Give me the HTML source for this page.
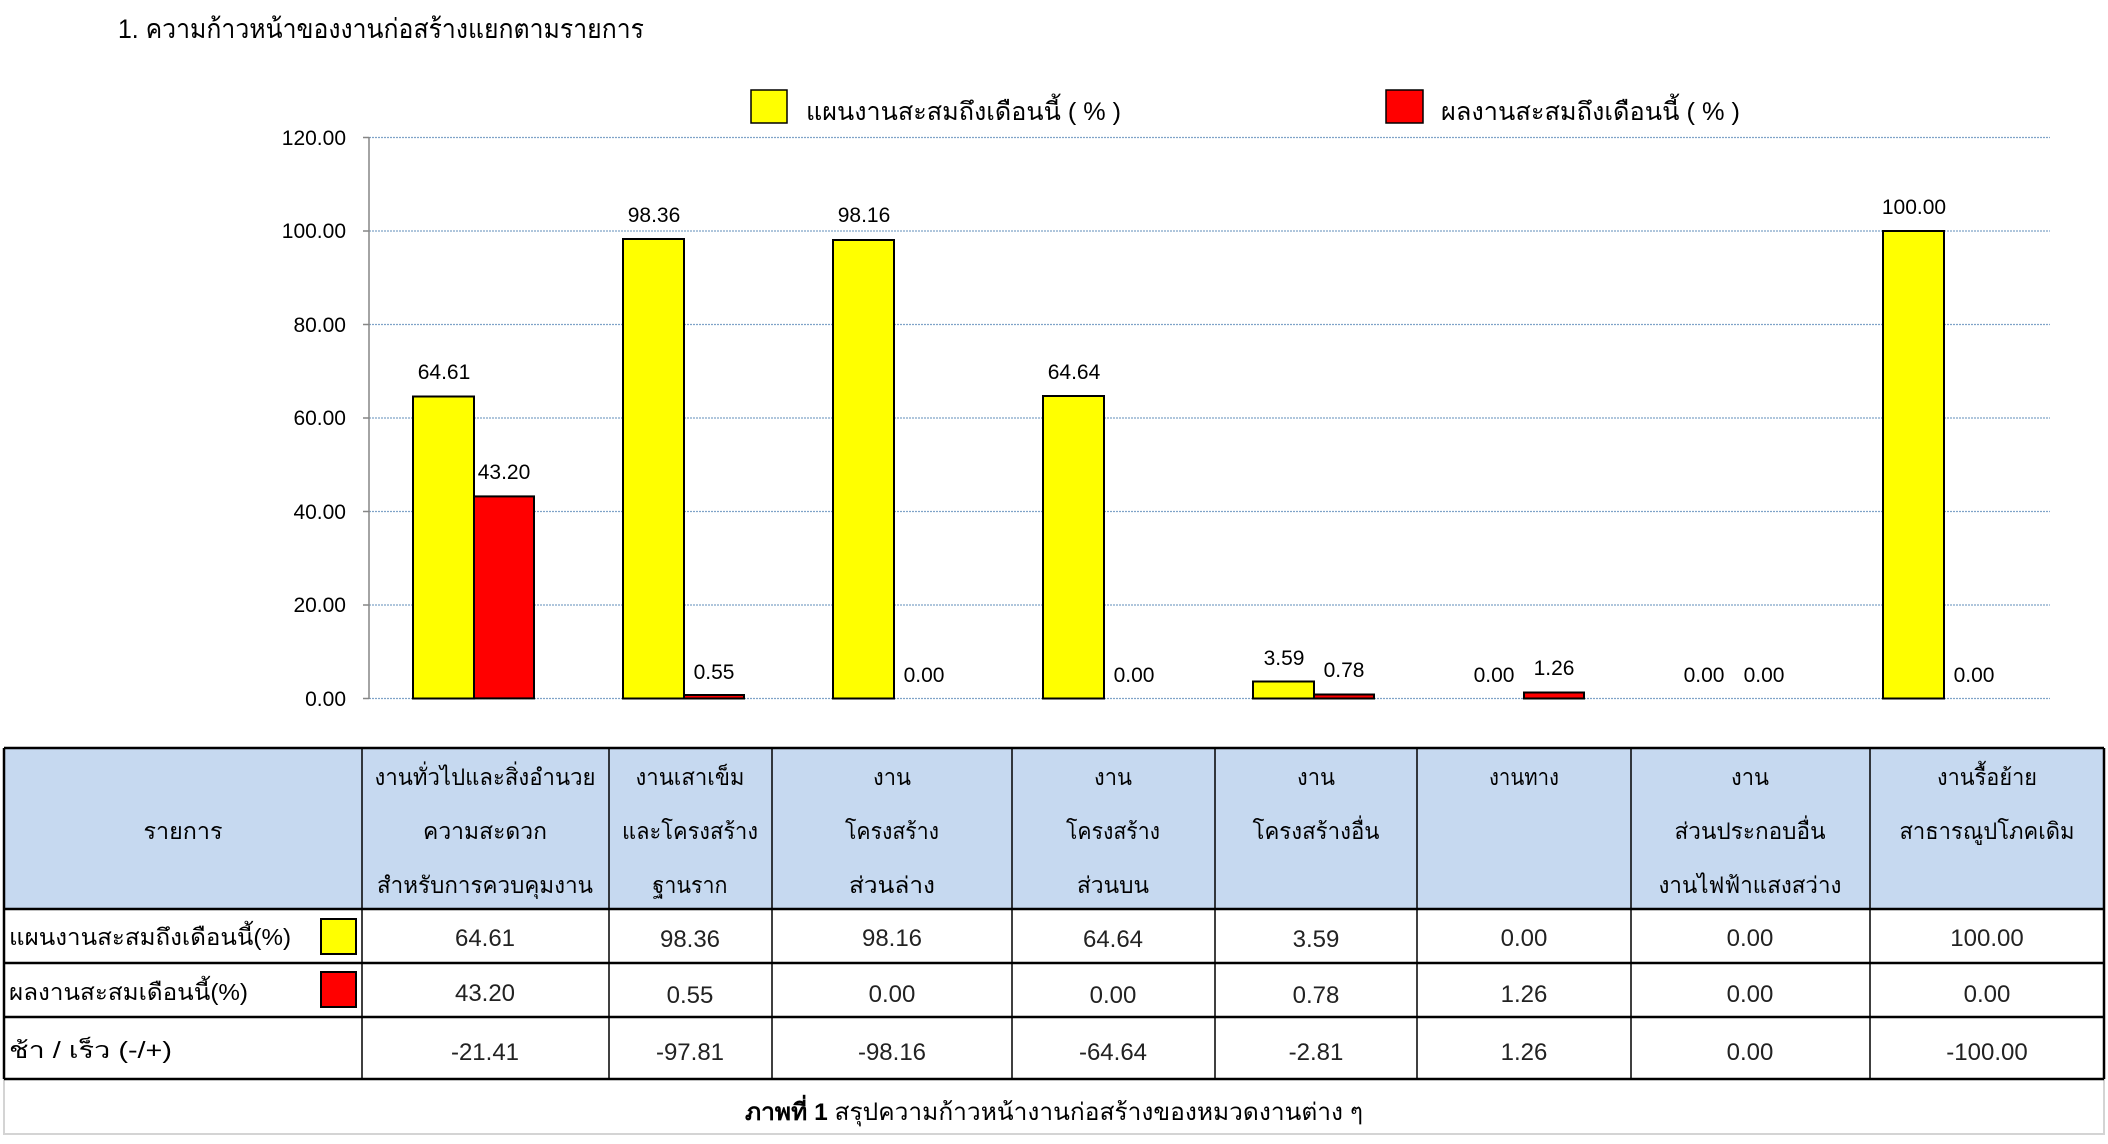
<!DOCTYPE html>
<html><head><meta charset="utf-8"><style>
html,body{margin:0;padding:0;background:#fff;}
svg{display:block;font-family:"Liberation Sans","DejaVu Sans",sans-serif;}
</style></head><body>
<svg width="2108" height="1144" viewBox="0 0 2108 1144" xmlns="http://www.w3.org/2000/svg">
<rect width="2108" height="1144" fill="#fff"/>
<text x="118" y="38" font-size="27" fill="#000" textLength="526" lengthAdjust="spacingAndGlyphs">1. ความก้าวหน้าของงานก่อสร้างแยกตามรายการ</text>
<!-- legend -->
<rect x="751" y="90" width="36" height="33" fill="#ffff00" stroke="#000" stroke-width="1.5"/>
<text x="806" y="120" font-size="25" textLength="315" lengthAdjust="spacingAndGlyphs">แผนงานสะสมถึงเดือนนี้ ( % )</text>
<rect x="1386" y="90" width="37" height="33" fill="#ff0000" stroke="#000" stroke-width="1.5"/>
<text x="1441" y="120" font-size="25" textLength="299" lengthAdjust="spacingAndGlyphs">ผลงานสะสมถึงเดือนนี้ ( % )</text>
<!-- grid -->
<g stroke="#7fa3c8" stroke-width="1.2" stroke-dasharray="2,1">
<line x1="369" y1="137.5" x2="2050" y2="137.5"/>
<line x1="369" y1="231" x2="2050" y2="231"/>
<line x1="369" y1="324.5" x2="2050" y2="324.5"/>
<line x1="369" y1="418" x2="2050" y2="418"/>
<line x1="369" y1="511.5" x2="2050" y2="511.5"/>
<line x1="369" y1="605" x2="2050" y2="605"/>
<line x1="369" y1="698.5" x2="2050" y2="698.5"/>
</g>
<line x1="369" y1="137" x2="369" y2="699" stroke="#868686" stroke-width="1.5"/>
<g stroke="#868686" stroke-width="1.5">
<line x1="363" y1="137.5" x2="369" y2="137.5"/><line x1="363" y1="231" x2="369" y2="231"/><line x1="363" y1="324.5" x2="369" y2="324.5"/><line x1="363" y1="418" x2="369" y2="418"/><line x1="363" y1="511.5" x2="369" y2="511.5"/><line x1="363" y1="605" x2="369" y2="605"/><line x1="363" y1="698.5" x2="369" y2="698.5"/>
</g>
<g font-size="21" text-anchor="end">
<text x="346" y="145">120.00</text><text x="346" y="238">100.00</text><text x="346" y="332">80.00</text><text x="346" y="425">60.00</text><text x="346" y="519">40.00</text><text x="346" y="612">20.00</text><text x="346" y="706">0.00</text>
</g>
<!-- bars -->
<g stroke="#000" stroke-width="2">
<rect x="413" y="396.5" width="61" height="302" fill="#ffff00"/>
<rect x="474" y="496.4" width="60" height="202" fill="#ff0000"/>
<rect x="623" y="239" width="61" height="459.5" fill="#ffff00"/>
<rect x="684" y="695" width="60" height="3.5" fill="#ff0000"/>
<rect x="833" y="240" width="61" height="458.5" fill="#ffff00"/>
<rect x="1043" y="396" width="61" height="302.5" fill="#ffff00"/>
<rect x="1253" y="681.5" width="61" height="17" fill="#ffff00"/>
<rect x="1314" y="694.5" width="60" height="4" fill="#ff0000"/>
<rect x="1524" y="692.5" width="60" height="6" fill="#ff0000"/>
<rect x="1883" y="231" width="61" height="467.5" fill="#ffff00"/>
</g>
<g font-size="21" text-anchor="middle">
<text x="444" y="379">64.61</text><text x="504" y="479">43.20</text>
<text x="654" y="222">98.36</text><text x="714" y="679">0.55</text>
<text x="864" y="222">98.16</text><text x="924" y="682">0.00</text>
<text x="1074" y="379">64.64</text><text x="1134" y="682">0.00</text>
<text x="1284" y="665">3.59</text><text x="1344" y="677">0.78</text>
<text x="1494" y="682">0.00</text><text x="1554" y="675">1.26</text>
<text x="1704" y="682">0.00</text><text x="1764" y="682">0.00</text>
<text x="1914" y="214">100.00</text><text x="1974" y="682">0.00</text>
</g>
<!-- table -->
<rect x="4" y="748" width="2100" height="161" fill="#c6d9f0"/>
<rect x="4" y="1079" width="2100" height="55" fill="#fff" stroke="#d4d4d4" stroke-width="2"/>
<g stroke="#000" stroke-width="2.5">
<line x1="4" y1="748" x2="2104" y2="748"/>
<line x1="4" y1="909" x2="2104" y2="909"/>
<line x1="4" y1="963" x2="2104" y2="963"/>
<line x1="4" y1="1017" x2="2104" y2="1017"/>
<line x1="4" y1="1079" x2="2104" y2="1079"/>
<line x1="4" y1="748" x2="4" y2="1079"/>
<line x1="2104" y1="748" x2="2104" y2="1079"/>
</g>
<g stroke="#000" stroke-width="1.5">
<line x1="362" y1="748" x2="362" y2="1079"/><line x1="609" y1="748" x2="609" y2="1079"/><line x1="772" y1="748" x2="772" y2="1079"/><line x1="1012" y1="748" x2="1012" y2="1079"/><line x1="1215" y1="748" x2="1215" y2="1079"/><line x1="1417" y1="748" x2="1417" y2="1079"/><line x1="1631" y1="748" x2="1631" y2="1079"/><line x1="1870" y1="748" x2="1870" y2="1079"/>
</g>
<g font-size="23" text-anchor="middle" lengthAdjust="spacingAndGlyphs">
<text x="183" y="839" textLength="79" lengthAdjust="spacingAndGlyphs">รายการ</text>
<text x="485" y="785" textLength="221" lengthAdjust="spacingAndGlyphs">งานทั่วไปและสิ่งอำนวย</text>
<text x="485" y="839" textLength="124" lengthAdjust="spacingAndGlyphs">ความสะดวก</text>
<text x="485" y="893" textLength="216" lengthAdjust="spacingAndGlyphs">สำหรับการควบคุมงาน</text>
<text x="690" y="785" textLength="109" lengthAdjust="spacingAndGlyphs">งานเสาเข็ม</text>
<text x="690" y="839" textLength="136" lengthAdjust="spacingAndGlyphs">และโครงสร้าง</text>
<text x="690" y="893" textLength="75" lengthAdjust="spacingAndGlyphs">ฐานราก</text>
<text x="892" y="785" textLength="38" lengthAdjust="spacingAndGlyphs">งาน</text>
<text x="892" y="839" textLength="94" lengthAdjust="spacingAndGlyphs">โครงสร้าง</text>
<text x="892" y="893" textLength="86" lengthAdjust="spacingAndGlyphs">ส่วนล่าง</text>
<text x="1113" y="785" textLength="38" lengthAdjust="spacingAndGlyphs">งาน</text>
<text x="1113" y="839" textLength="94" lengthAdjust="spacingAndGlyphs">โครงสร้าง</text>
<text x="1113" y="893" textLength="72" lengthAdjust="spacingAndGlyphs">ส่วนบน</text>
<text x="1316" y="785" textLength="38" lengthAdjust="spacingAndGlyphs">งาน</text>
<text x="1316" y="839" textLength="127" lengthAdjust="spacingAndGlyphs">โครงสร้างอื่น</text>
<text x="1524" y="785" textLength="70" lengthAdjust="spacingAndGlyphs">งานทาง</text>
<text x="1750" y="785" textLength="38" lengthAdjust="spacingAndGlyphs">งาน</text>
<text x="1750" y="839" textLength="151" lengthAdjust="spacingAndGlyphs">ส่วนประกอบอื่น</text>
<text x="1750" y="893" textLength="183" lengthAdjust="spacingAndGlyphs">งานไฟฟ้าแสงสว่าง</text>
<text x="1987" y="785" textLength="100" lengthAdjust="spacingAndGlyphs">งานรื้อย้าย</text>
<text x="1987" y="839" textLength="175" lengthAdjust="spacingAndGlyphs">สาธารณูปโภคเดิม</text>
</g>
<g font-size="23" text-anchor="start">
<text x="9" y="945" textLength="282" lengthAdjust="spacingAndGlyphs">แผนงานสะสมถึงเดือนนี้(%)</text>
<text x="9" y="1000" textLength="239" lengthAdjust="spacingAndGlyphs">ผลงานสะสมเดือนนี้(%)</text>
<text x="9" y="1058" textLength="163" lengthAdjust="spacingAndGlyphs">ช้า / เร็ว  (-/+)</text>
</g>
<rect x="321" y="919" width="35" height="35" fill="#ffff00" stroke="#000" stroke-width="2"/>
<rect x="321" y="972" width="35" height="35" fill="#ff0000" stroke="#000" stroke-width="2"/>
<g font-size="24" text-anchor="middle" fill="#222">
<text x="485" y="946">64.61</text><text x="690" y="947">98.36</text><text x="892" y="946">98.16</text><text x="1113" y="947">64.64</text><text x="1316" y="947">3.59</text><text x="1524" y="946">0.00</text><text x="1750" y="946">0.00</text><text x="1987" y="946">100.00</text>
<text x="485" y="1001">43.20</text><text x="690" y="1003">0.55</text><text x="892" y="1002">0.00</text><text x="1113" y="1003">0.00</text><text x="1316" y="1003">0.78</text><text x="1524" y="1002">1.26</text><text x="1750" y="1002">0.00</text><text x="1987" y="1002">0.00</text>
<text x="485" y="1060">-21.41</text><text x="690" y="1060">-97.81</text><text x="892" y="1060">-98.16</text><text x="1113" y="1060">-64.64</text><text x="1316" y="1060">-2.81</text><text x="1524" y="1060">1.26</text><text x="1750" y="1060">0.00</text><text x="1987" y="1060">-100.00</text>
</g>
<text x="745" y="1120" font-size="24" textLength="618" lengthAdjust="spacingAndGlyphs"><tspan font-weight="bold">ภาพที่ 1</tspan> สรุปความก้าวหน้างานก่อสร้างของหมวดงานต่าง ๆ</text>
</svg>
</body></html>
